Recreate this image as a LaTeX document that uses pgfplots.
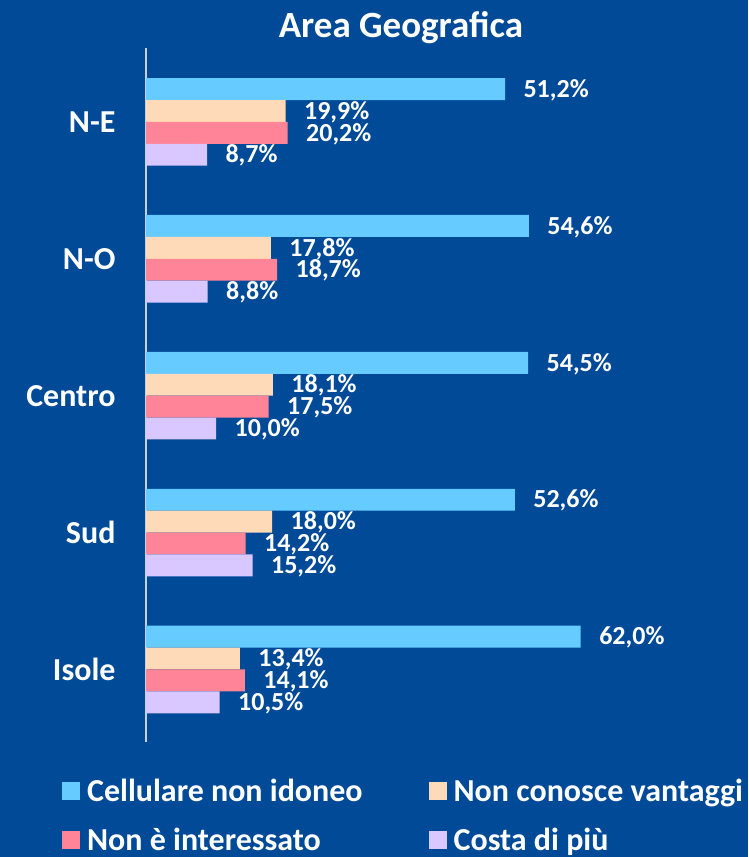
\documentclass[border=0pt]{standalone}
\usepackage{fontspec}
\setmainfont{Carlito}
\usepackage{pgfplots}
\pgfplotsset{compat=1.18}
\definecolor{bg}{RGB}{1,74,152}
\definecolor{cyanb}{RGB}{102,204,255}
\definecolor{peach}{RGB}{255,218,185}
\definecolor{pinkb}{RGB}{255,132,151}
\definecolor{lav}{RGB}{216,200,255}
\definecolor{axgray}{RGB}{200,208,224}
\begin{document}
\begin{tikzpicture}[x=1pt,y=1pt]
\fill[bg] (0,0) rectangle (748,857);
\begin{axis}[
  at={(146pt,115pt)}, anchor=south west,
  scale only axis, width=596pt, height=694pt,
  xbar, bar width=0.16,
  xmin=0, xmax=85,
  ymin=-0.53, ymax=4.54,
  axis x line=none,
  axis y line*=left,
  y axis line style={axgray, line width=2pt},
  ytick={0,1,2,3,4},
  yticklabels={Isole,Sud,Centro,N-O,N-E},
  major tick length=0pt,
  yticklabel style={font=\fontsize{32}{34}\selectfont\bfseries, text=white, xshift=-27pt},
  /pgf/number format/assume math mode=true,
  nodes near coords={\pgfmathprintnumber[fixed,fixed zerofill,precision=1,use comma,assume math mode=true]{\pgfplotspointmeta}\%},
  every node near coord/.append style={font=\fontsize{26}{28}\selectfont\bfseries, text=white, xshift=15pt, yshift=-1pt, inner ysep=0pt},
  legend columns=2,
  legend image code/.code={\fill[#1,draw=none] (0pt,-9pt) rectangle (18pt,9pt);},
  legend style={at={(axis description cs:-0.141,-0.053)}, anchor=north west,
    draw=none, fill=none, text=white, inner sep=0pt, row sep=25pt,
    font=\fontsize{32}{34}\selectfont\bfseries,
    nodes={inner xsep=7pt, inner ysep=0pt},
    /tikz/every even column/.append style={column sep=59pt}},
  legend cell align=left,
  clip=false,
]
\addplot[fill=cyanb, draw=none, bar shift=0.24] coordinates {(51.2,4) (54.6,3) (54.5,2) (52.6,1) (62.0,0)};
\addlegendentry{Cellulare non idoneo}
\addplot[fill=peach, draw=none, bar shift=0.08] coordinates {(19.9,4) (17.8,3) (18.1,2) (18.0,1) (13.4,0)};
\addlegendentry{Non conosce vantaggi}
\addplot[fill=pinkb, draw=none, bar shift=-0.08] coordinates {(20.2,4) (18.7,3) (17.5,2) (14.2,1) (14.1,0)};
\addlegendentry{Non è interessato}
\addplot[fill=lav, draw=none, bar shift=-0.24] coordinates {(8.7,4) (8.8,3) (10.0,2) (15.2,1) (10.5,0)};
\addlegendentry{Costa di più}
\end{axis}
\node[text=white, font=\fontsize{37}{40}\selectfont\bfseries] at (401,829) {Area Geografica};
\pgfresetboundingbox
\useasboundingbox (0,0) rectangle (748,857);
\end{tikzpicture}
\end{document}
